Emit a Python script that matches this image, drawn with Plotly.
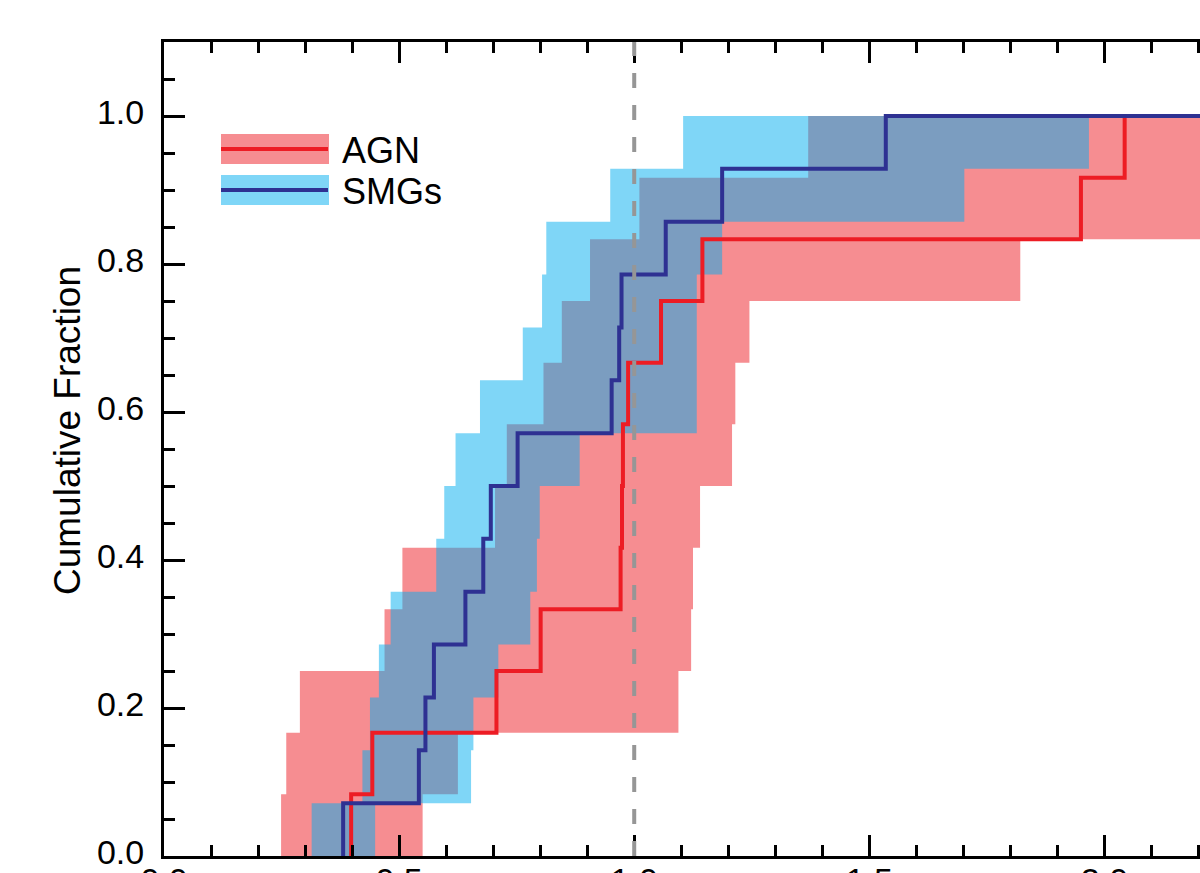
import plotly.graph_objects as go

# Sorted sample values: each one is a step of the empirical CDF
agn_x = [0.398, 0.443, 0.707, 0.801, 0.971, 0.974, 0.976, 0.987, 1.057, 1.145, 1.950, 2.043]
smg_x = [0.381, 0.542, 0.556, 0.574, 0.641, 0.679, 0.695, 0.752, 0.952, 0.968, 0.973, 1.067, 1.187, 1.535]

# Confidence bands: strip k spans k/n .. (k+1)/n with x limits lo[k] .. hi[k]
agn_lo = [0.249, 0.260, 0.289, 0.469, 0.507, 0.704, 0.729, 0.807, 0.846, 0.906, 1.011, 1.370]
agn_hi = [0.550, 0.625, 1.094, 1.121, 1.125, 1.140, 1.208, 1.215, 1.245, 1.821, 2.400, 2.400]
smg_lo = [0.314, 0.422, 0.438, 0.457, 0.482, 0.579, 0.596, 0.620, 0.672, 0.763, 0.804, 0.813, 0.949, 1.104]
smg_hi = [0.449, 0.653, 0.658, 0.711, 0.779, 0.793, 0.799, 0.884, 1.133, 1.133, 1.133, 1.187, 1.702, 1.967]

x_ticks = [0.0, 0.5, 1.0, 1.5, 2.0]
y_ticks = [0.0, 0.2, 0.4, 0.6, 0.8, 1.0]
x_ref = 1.0

RED = "rgb(237,28,36)"
NAVY = "rgb(46,49,146)"
PINK = "rgba(237,28,36,0.5)"
CYAN = "rgba(0,174,239,0.5)"
FONT = "Liberation Sans, Arial, Helvetica, sans-serif"


def ecdf_xy(xs, x_end):
    n = len(xs)
    xx = [xs[0]] + list(xs) + [x_end]
    yy = [0.0] + [(k + 1) / n for k in range(n)] + [1.0]
    return xx, yy


def band_xy(lo, hi):
    n = len(lo)
    bx, by = [], []
    for k in range(n):
        bx += [lo[k], lo[k]]
        by += [k / n, (k + 1) / n]
    for k in reversed(range(n)):
        bx += [hi[k], hi[k]]
        by += [(k + 1) / n, k / n]
    return bx, by


fig = go.Figure()

for lo, hi, col in [(agn_lo, agn_hi, PINK), (smg_lo, smg_hi, CYAN)]:
    bx, by = band_xy(lo, hi)
    fig.add_trace(go.Scatter(x=bx, y=by, mode="lines", fill="toself",
                             fillcolor=col, line=dict(width=0, color=col),
                             hoverinfo="skip", showlegend=False))

for xs, col in [(agn_x, RED), (smg_x, NAVY)]:
    lx, ly = ecdf_xy(xs, 2.6)
    fig.add_trace(go.Scatter(x=lx, y=ly, mode="lines", line_shape="hv",
                             line=dict(color=col, width=4), showlegend=False))

# page geometry (pixels)
W, H = 1242, 873
ML, MR, MT, MB = 164, 20, 42, 17
PW, PH = W - ML - MR, H - MT - MB


def pxx(x):
    return (x - ML) / PW


def pxy(y):
    return (H - MB - y) / PH


shapes = [
    dict(type="line", xref="x", yref="paper", x0=x_ref, x1=x_ref, y0=0, y1=1,
         line=dict(color="rgb(150,150,150)", width=4, dash="15px,17px"), layer="above"),
]
annotations = []
legend_items = [("AGN", PINK, RED, 134, 164), ("SMGs", CYAN, NAVY, 175, 205)]
for name, fillc, linec, top, bot in legend_items:
    shapes.append(dict(type="rect", xref="paper", yref="paper",
                       x0=pxx(221), x1=pxx(329), y0=pxy(bot), y1=pxy(top),
                       fillcolor=fillc, line=dict(width=0)))
    mid = (top + bot) / 2
    shapes.append(dict(type="line", xref="paper", yref="paper",
                       x0=pxx(221), x1=pxx(328), y0=pxy(mid), y1=pxy(mid),
                       line=dict(color=linec, width=4)))
    annotations.append(dict(text=name, xref="paper", yref="paper",
                            x=pxx(340), y=pxy(mid + 1), xanchor="left", yanchor="middle",
                            showarrow=False, font=dict(size=36, color="black", family=FONT)))

annotations.append(dict(text="Cumulative Fraction", xref="paper", yref="paper",
                        x=pxx(67), y=pxy(431), xanchor="center", yanchor="middle",
                        textangle=-90, showarrow=False,
                        font=dict(size=37, color="black", family=FONT)))

axis_common = dict(showline=True, linewidth=3, linecolor="black", mirror="ticks",
                   ticks="inside", ticklen=21, tickwidth=3, tickcolor="black",
                   showgrid=False, zeroline=False, automargin=False,
                   ticklabeloverflow="allow",
                   tickfont=dict(size=34, color="black", family=FONT))

fig.update_layout(
    width=W, height=H,
    margin=dict(l=ML, r=MR, t=MT, b=MB, pad=0),
    paper_bgcolor="white", plot_bgcolor="white",
    showlegend=False,
    xaxis=dict(range=[0, 2.25], tickvals=x_ticks, tickformat=".1f",
               ticklabelstandoff=-8,
               minor=dict(dtick=0.1, ticklen=11, tickwidth=3, tickcolor="black", ticks="inside"),
               **axis_common),
    yaxis=dict(range=[0, 1.1], tickvals=y_ticks, tickformat=".1f",
               ticklabelstandoff=10, ticklabelshift=-4,
               minor=dict(dtick=0.05, ticklen=11, tickwidth=3, tickcolor="black", ticks="inside"),
               **axis_common),
    shapes=shapes,
    annotations=annotations,
)

fig.write_html(
    "out.html",
    post_script="document.documentElement.style.overflow='hidden';"
                "document.body.style.overflow='hidden';document.body.style.margin='0';",
)
